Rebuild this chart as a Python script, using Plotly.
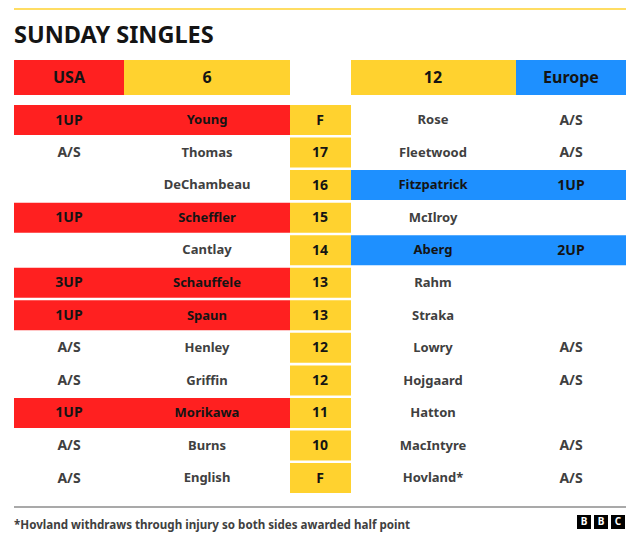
import plotly.graph_objects as go

# table contents
title = "SUNDAY SINGLES"
footnote = "*Hovland withdraws through injury so both sides awarded half point"
teams = ["USA", "Europe"]
totals = ["6", "12"]
usa_scores = ["1UP", "A/S", "", "1UP", "", "3UP", "1UP", "A/S", "A/S", "1UP", "A/S", "A/S"]
usa_players = ["Young", "Thomas", "DeChambeau", "Scheffler", "Cantlay", "Schauffele",
               "Spaun", "Henley", "Griffin", "Morikawa", "Burns", "English"]
holes = ["F", "17", "16", "15", "14", "13", "13", "12", "12", "11", "10", "F"]
eur_players = ["Rose", "Fleetwood", "Fitzpatrick", "McIlroy", "Aberg", "Rahm",
               "Straka", "Lowry", "Hojgaard", "Hatton", "MacIntyre", "Hovland*"]
eur_scores = ["A/S", "A/S", "1UP", "", "2UP", "", "", "A/S", "A/S", "", "A/S", "A/S"]

RED = "#ff2020"
BLUE = "#1e90ff"
YELLOW = "#ffd22f"
DARK = "#404040"
BLACK = "#141414"
FONT = "Noto Sans"

# pixel layout
row_y = [120 + i * 32.55 for i in range(len(holes))]
text_y = [y + 1 for y in row_y]
row_h = 30
head_y = 77.5
head_h = 35


def bars(base, width, y, height, color):
    return go.Bar(orientation="h", base=base, x=width, y=y, width=height,
                  marker=dict(color=color, line_width=0), hoverinfo="skip", showlegend=False)


def labels(x, y, text, color, size=13):
    return go.Scatter(x=x, y=y, text=["<b>%s</b>" % t for t in text], mode="text",
                      textposition="middle center", cliponaxis=False,
                      textfont=dict(family=FONT, size=size, color=color),
                      hoverinfo="skip", showlegend=False)


fig = go.Figure()

# header
fig.add_trace(bars([14, 124, 351, 516], [110, 166, 165, 110], [head_y] * 4, head_h,
                   [RED, YELLOW, YELLOW, BLUE]))
fig.add_trace(labels([69, 207, 433, 571], [head_y + 1] * 4,
                     [teams[0], totals[0], totals[1], teams[1]], BLACK, 16))

# rows
n = len(holes)
fig.add_trace(bars([290] * n, [61] * n, row_y, row_h, YELLOW))
for i in range(n):
    if "UP" in usa_scores[i]:
        fig.add_trace(bars([14], [276], [row_y[i]], row_h, RED))
    if "UP" in eur_scores[i]:
        fig.add_trace(bars([351], [275], [row_y[i]], row_h, BLUE))

usa_color = [BLACK if "UP" in s else DARK for s in usa_scores]
eur_color = [BLACK if "UP" in s else DARK for s in eur_scores]
fig.add_trace(labels([69] * n, text_y, usa_scores, usa_color, 14))
fig.add_trace(labels([207] * n, text_y, usa_players, usa_color))
fig.add_trace(labels([320] * n, text_y, holes, BLACK, 14))
fig.add_trace(labels([433] * n, text_y, eur_players, eur_color))
fig.add_trace(labels([571] * n, text_y, eur_scores, eur_color, 14))

# bbc logo
fig.add_trace(go.Scatter(x=[584, 601, 618], y=[522, 522, 522], mode="markers+text",
                         text=["<b>B</b>", "<b>B</b>", "<b>C</b>"],
                         textposition="middle center",
                         textfont=dict(family=FONT, size=10, color="white"),
                         marker=dict(symbol="square", size=14, color="#000000"),
                         hoverinfo="skip", showlegend=False))

fig.update_layout(
    width=640, height=541,
    margin=dict(l=0, r=0, t=0, b=0),
    paper_bgcolor="white", plot_bgcolor="white",
    barmode="overlay",
    xaxis=dict(range=[0, 640], visible=False, fixedrange=True),
    yaxis=dict(range=[541, 0], visible=False, fixedrange=True),
    shapes=[
        dict(type="line", x0=14, x1=626, y0=9, y1=9, line=dict(color=YELLOW, width=1.5)),
        dict(type="line", x0=14, x1=626, y0=507, y1=507, line=dict(color="#8c8c8c", width=1.5)),
    ],
    annotations=[
        dict(x=14, y=34, xshift=-2, text="<b>%s</b>" % title, showarrow=False, xanchor="left",
             font=dict(family=FONT, size=23.5, color="#141414")),
        dict(x=14, y=524, xshift=-2, text="<b>%s</b>" % footnote, showarrow=False, xanchor="left",
             font=dict(family=FONT, size=11.6, color=DARK)),
    ],
)

fig.write_html("out.html", config=dict(displayModeBar=False),
               post_script="document.body.style.margin='0';")
